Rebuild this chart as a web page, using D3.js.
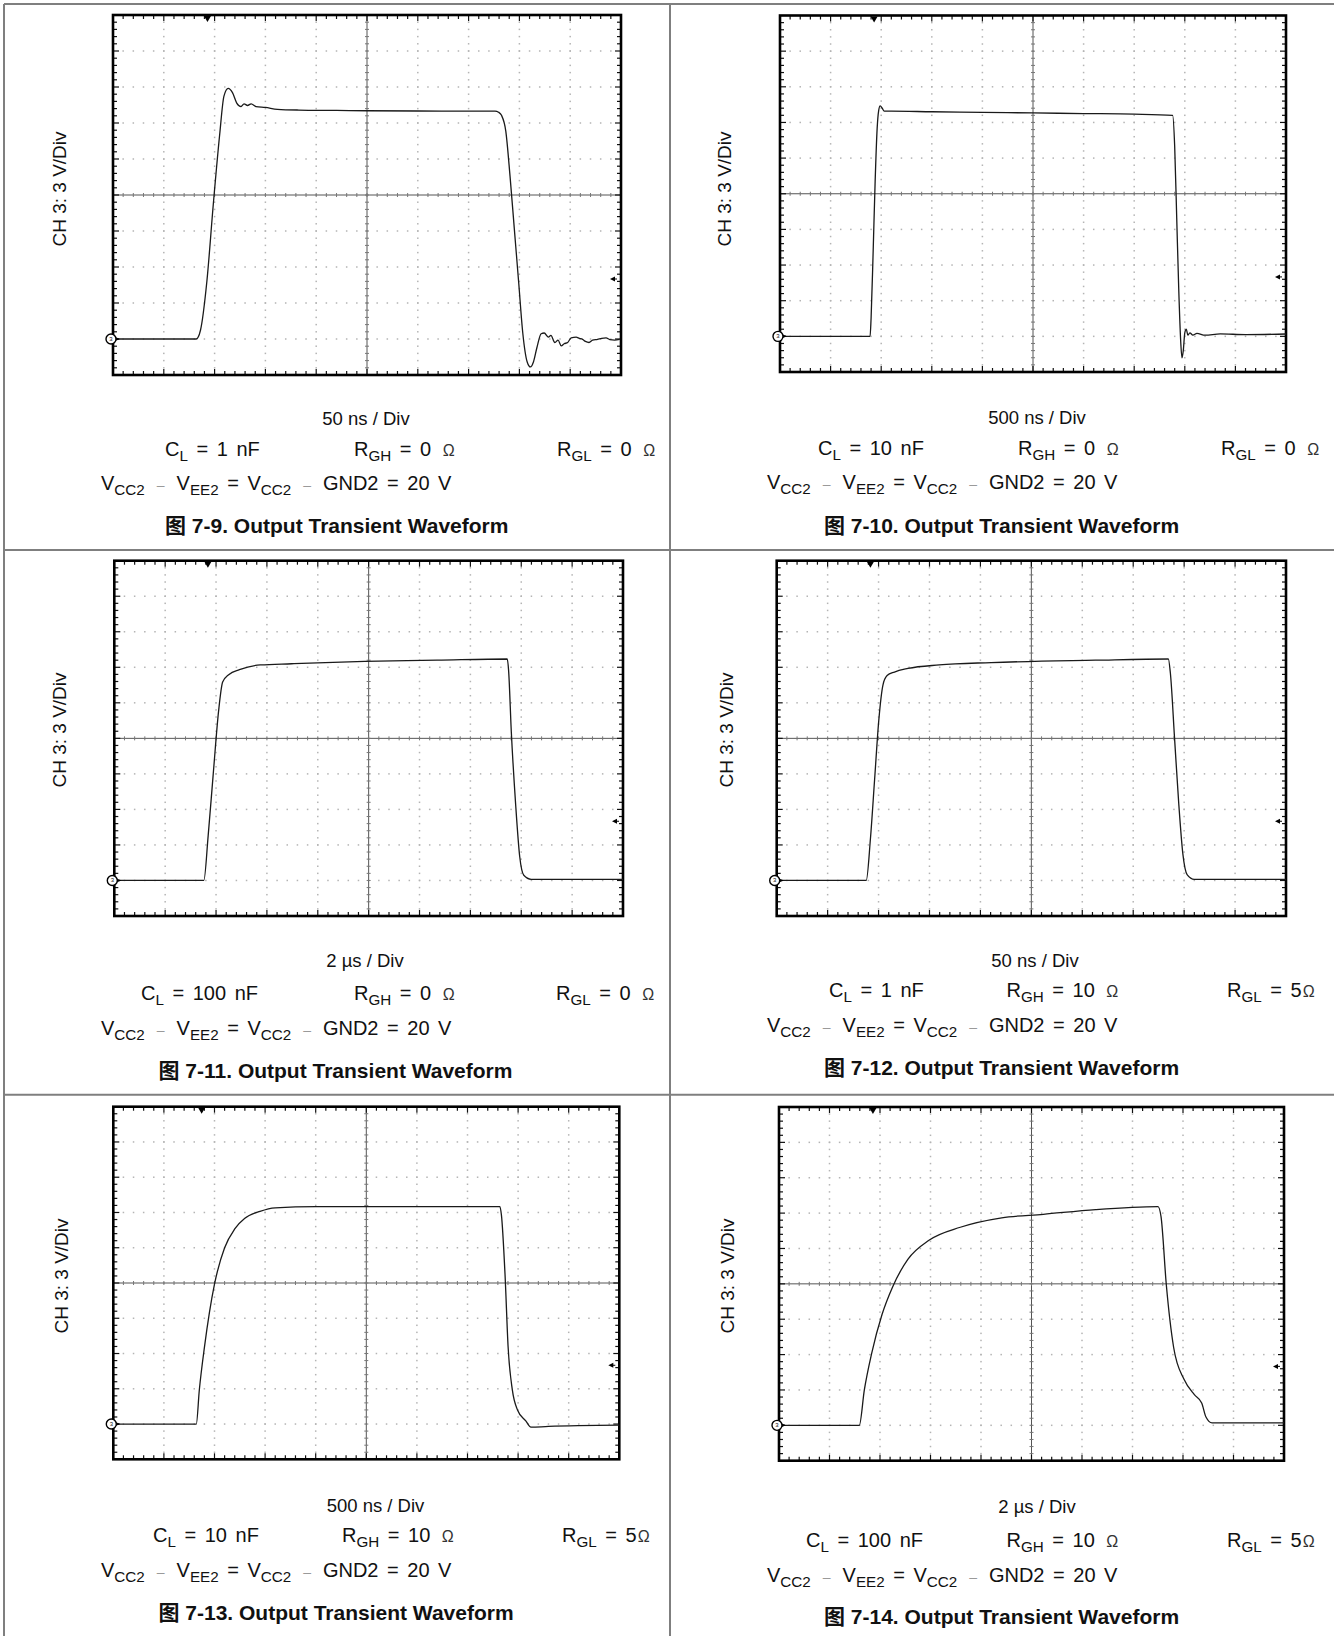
<!DOCTYPE html>
<html><head><meta charset="utf-8">
<script src="https://cdn.jsdelivr.net/npm/d3@7"></script>
<style>
body{margin:0;background:#fff;}
svg{display:block;}
text{font-family:"Liberation Sans",Arial,sans-serif;fill:#111;}
</style></head><body>
<svg id="c" width="1334" height="1636"></svg>
<script>
// ---------- chart data ----------
const figureIds   = ["7-9", "7-10", "7-11", "7-12", "7-13", "7-14"];
const timeBase    = ["50 ns / Div", "500 ns / Div", "2 \u00b5s / Div", "50 ns / Div", "500 ns / Div", "2 \u00b5s / Div"];
const timePerDiv  = [50, 500, 2, 50, 500, 2];          // ns, ns, µs, ns, ns, µs
const loadCap     = ["1 nF", "10 nF", "100 nF", "1 nF", "10 nF", "100 nF"];
const rGateHigh   = ["0", "0", "0", "10", "10", "10"];
const rGateLow    = ["0", "0", "0", "5", "5", "5"];
const yLabel      = "CH 3: 3 V/Div";
const voltsPerDiv = 3;
const triggerLevel = 5;                                  // V (right-edge arrow)
const triggerTime  = [93, 930, 3.68, 92, 873, 3.72];     // top marker

// waveforms: time (panel units) / volts
const w79T  = [0,40,81.9,86.1,92.4,98.7,105,109.2,113.4,117.6,121.8,126,129,132.4,136,140.8,150,161.8,182.8,220,250,300,350.8,376,379.5,382.4,386.6,390.8,395,399.2,403.4,407.6,410.9,413.9,417.2,421.4,424.4,428.6,431,434.9,438,441.2,444,447.5,451,455.9,459,462.2,465,468.5,472,476.9,481,485.3,489,493.7,498.7];
const w79V  = [0,0,0,0.73,4.81,11.21,17.04,20.24,20.88,20.53,19.66,19.37,19.6,19.46,19.6,19.37,19.3,19.14,19.08,19.05,19.02,19.0,18.99,18.99,18.9,18.64,17.33,13.55,9.18,4.81,0.44,-1.89,-2.33,-1.89,-0.73,0.44,0.5,0.15,0.3,-0.29,-0.1,-0.58,-0.4,-0.29,0.1,0.15,0.05,-0.03,-0.2,-0.29,-0.1,-0.03,0.05,0.09,-0.05,-0.09,-0.03];
const w710T = [0,500,890,900,920,940,960,975,990,1010,1030,1100,1500,2000,2500,3000,3500,3880,3900,3920,3940,3960,3972,3985,4000,4015,4030,4050,4080,4120,4200,4350,4600,5000];
const w710V = [0,0,0,1.5,7,13,17.5,19.0,19.4,19.2,18.95,18.95,18.9,18.85,18.8,18.75,18.7,18.6,16,10,4,-0.5,-1.8,-1.2,0.3,0.6,0.1,0.3,0.1,0.25,0.1,0.2,0.15,0.2];
const w711T = [0,3.52,3.69,3.89,4.1,4.26,4.51,4.92,5.74,6.97,9.84,12.7,15.45,15.5,15.61,15.78,15.94,16.1,16.39,20];
const w711V = [0,0,3.77,9.0,14.3,16.75,17.4,17.8,18.2,18.3,18.5,18.6,18.7,17.8,12.5,6.4,2.0,0.44,0.1,0.1];
const w712T = [0,87.9,92,96.1,100.2,104.3,108.4,115.6,128.8,159.5,210.6,312.9,384.5,386.5,390.6,394.7,398.8,402.9,410,500];
const w712V = [0,0,3.5,8.5,13.5,16.5,17.3,17.6,17.9,18.2,18.4,18.6,18.7,17.5,12,6.5,2.2,0.5,0.1,0.1];
const w713T = [0,820,850,900,950,1000,1100,1200,1300,1450,1600,2000,2500,3000,3500,3820,3835,3871,3901,3943,3994,4076,4127,4300,5000];
const w713V = [0,0,2.9,6.5,9.5,11.9,15.0,16.6,17.5,18.1,18.4,18.5,18.5,18.5,18.5,18.5,17.8,12.7,6.6,2.9,1.2,0.27,-0.27,-0.2,-0.1];
const w714T = [0,3.18,3.38,3.67,4.08,4.49,5.11,5.94,7.18,8.82,10.47,12.54,15.01,15.13,15.34,15.63,16.04,16.45,16.74,16.91,17.15,20];
const w714V = [0,0,3.0,6.1,9.4,11.7,14.1,15.7,16.8,17.6,17.9,18.3,18.55,17.7,11.9,6.6,3.9,2.6,1.9,0.7,0.2,0.2];
const waveT = [w79T, w710T, w711T, w712T, w713T, w714T];
const waveV = [w79V, w710V, w711V, w712V, w713V, w714V];

// ---------- layout (pixels) ----------
const layout = [
 {x0:113,   y0:15,    x1:621,  y1:375,    yl:[66,189],   xl:[366,425],    cl:[165,456],  rgh:[354,456],  rgl:[557,456],  vcc:[101,490],  ti:[165,533]},
 {x0:780,   y0:15.5,  x1:1286, y1:372,    yl:[731,189],  xl:[1037,424],   cl:[818,455],  rgh:[1018,455], rgl:[1221,455], vcc:[767,489],  ti:[824,533]},
 {x0:114.3, y0:560.7, x1:623,  y1:916,    yl:[66,730],   xl:[365,967],    cl:[141,1000], rgh:[354,1000], rgl:[556,1000], vcc:[101,1035], ti:[158.5,1078]},
 {x0:776.7, y0:560.7, x1:1286, y1:916,    yl:[733,730],  xl:[1035,967],   cl:[829,997],  rgh:[1006.5,997],rgl:[1227,997], vcc:[767,1032], ti:[824,1075]},
 {x0:113.3, y0:1106.7,x1:619.3,y1:1459.3, yl:[68,1276],  xl:[375.5,1512], cl:[153,1542], rgh:[342,1542], rgl:[562,1542], vcc:[101,1577], ti:[158.5,1620]},
 {x0:779,   y0:1107,  x1:1284, y1:1460.7, yl:[734,1276], xl:[1037,1513],  cl:[806,1547], rgh:[1006.5,1547],rgl:[1227,1547],vcc:[767,1582], ti:[824,1624]}
];

const svg = d3.select("#c");

// page table lines
const lineCol = "#7f7f7f";
svg.append("line").attr("x1",4).attr("x2",1334).attr("y1",4).attr("y2",4).attr("stroke",lineCol).attr("stroke-width",2);
svg.append("line").attr("x1",4).attr("x2",4).attr("y1",4).attr("y2",1636).attr("stroke",lineCol).attr("stroke-width",2);
svg.append("line").attr("x1",670).attr("x2",670).attr("y1",4).attr("y2",1636).attr("stroke",lineCol).attr("stroke-width",2);
[550, 1094.7].forEach(yy => svg.append("line").attr("x1",4).attr("x2",1334).attr("y1",yy).attr("y2",yy).attr("stroke",lineCol).attr("stroke-width",2));

function rich(g, x, y, parts, size, extra) {
  const t = g.append("text").attr("x", x).attr("y", y).attr("font-size", size).attr("xml:space","preserve");
  if (extra) extra(t);
  let shift = 0;
  parts.forEach(p => {
    const ts = t.append("tspan").text(p.t);
    let target = p.sub ? 5 : 0;
    let dy = target - shift;
    if (dy) ts.attr("dy", dy);
    shift = target;
    if (p.dx) ts.attr("dx", p.dx);
    if (p.sub) ts.attr("font-size", size * 0.76);
    if (p.om) ts.attr("font-size", size * 0.8).attr("fill", "#333");
    if (p.dash) ts.attr("font-size", size * 0.7).attr("fill", "#9a9a9a");
  });
  return t;
}

function drawPanel(i) {
  const L = layout[i];
  const tpd = timePerDiv[i];
  const x = d3.scaleLinear().domain([0, 10 * tpd]).range([L.x0, L.x1]);
  const y = d3.scaleLinear().domain([-voltsPerDiv, 9 * voltsPerDiv]).range([L.y1, L.y0]);
  const g = svg.append("g");

  const xDiv = d3.range(0, 11).map(k => k * tpd);
  const yDiv = d3.range(-1, 10).map(k => k * voltsPerDiv);
  const xSub = d3.range(0, 51).map(k => k * tpd / 5);
  const ySub = d3.range(-5, 46).map(k => k * voltsPerDiv / 5);

  // dotted graticule
  const dots = [];
  xDiv.slice(1, 10).forEach((xv, k) => { if (k + 1 === 5) return; ySub.slice(1, -1).forEach(yv => dots.push([x(xv), y(yv)])); });
  yDiv.slice(1, 10).forEach((yv, k) => { if (k + 1 === 5) return; xSub.slice(1, -1).forEach(xv => dots.push([x(xv), y(yv)])); });
  g.append("g").selectAll("rect").data(dots).join("rect")
    .attr("x", d => d[0] - 0.75).attr("y", d => d[1] - 0.75)
    .attr("width", 1.5).attr("height", 1.5).attr("fill", "#b4b4b4");

  // center cross
  const xc = x(5 * tpd), yc = y(4 * voltsPerDiv);
  g.append("line").attr("x1", L.x0).attr("x2", L.x1).attr("y1", yc).attr("y2", yc).attr("stroke", "#555").attr("stroke-width", 1);
  g.append("line").attr("x1", xc).attr("x2", xc).attr("y1", L.y0).attr("y2", L.y1).attr("stroke", "#555").attr("stroke-width", 1);
  const cx = g.append("g").attr("stroke", "#777").attr("stroke-width", 1);
  xSub.slice(1, -1).forEach(xv => cx.append("line").attr("x1", x(xv)).attr("x2", x(xv)).attr("y1", yc - 2).attr("y2", yc + 2));
  ySub.slice(1, -1).forEach(yv => cx.append("line").attr("x1", xc - 2).attr("x2", xc + 2).attr("y1", y(yv)).attr("y2", y(yv)));

  // border ticks
  const bt = g.append("g").attr("stroke", "#111").attr("stroke-width", 1.2);
  xSub.slice(1, -1).forEach((xv, k) => {
    const len = (k + 1) % 5 === 0 ? 6 : 4;
    bt.append("line").attr("x1", x(xv)).attr("x2", x(xv)).attr("y1", L.y0).attr("y2", L.y0 + len);
    bt.append("line").attr("x1", x(xv)).attr("x2", x(xv)).attr("y1", L.y1).attr("y2", L.y1 - len);
  });
  ySub.slice(1, -1).forEach((yv, k) => {
    const len = (k + 1) % 5 === 0 ? 6 : 4;
    bt.append("line").attr("x1", L.x0).attr("x2", L.x0 + len).attr("y1", y(yv)).attr("y2", y(yv));
    bt.append("line").attr("x1", L.x1).attr("x2", L.x1 - len).attr("y1", y(yv)).attr("y2", y(yv));
  });

  // frame
  g.append("rect").attr("x", L.x0).attr("y", L.y0).attr("width", L.x1 - L.x0).attr("height", L.y1 - L.y0)
    .attr("fill", "none").attr("stroke", "#000").attr("stroke-width", 2.6);

  // trace
  const pts = waveT[i].map((t, k) => [t, waveV[i][k]]);
  g.append("path").datum(pts)
    .attr("d", d3.line().x(d => x(d[0])).y(d => y(d[1])).curve(d3.curveMonotoneX))
    .attr("fill", "none").attr("stroke", "#1a1a1a").attr("stroke-width", 1.3).attr("stroke-linejoin", "round");

  // trigger position marker (top)
  const tx = x(triggerTime[i]);
  g.append("path").attr("d", `M${tx - 3.5},${L.y0 + 1}L${tx + 3.5},${L.y0 + 1}L${tx},${L.y0 + 7}Z`).attr("fill", "#000");
  // trigger level arrow (right)
  const ty = y(triggerLevel);
  g.append("path").attr("d", `M${L.x1 - 11},${ty}L${L.x1 - 6},${ty - 2.5}L${L.x1 - 6},${ty + 2.5}Z`).attr("fill", "#000");
  g.append("line").attr("x1", L.x1 - 7).attr("x2", L.x1 - 4).attr("y1", ty).attr("y2", ty).attr("stroke", "#000").attr("stroke-width", 1);
  // ground reference marker (left)
  const gy = y(0);
  g.append("path").attr("d", `M${L.x0 + 7},${gy}L${L.x0 + 1},${gy - 2.5}L${L.x0 + 1},${gy + 2.5}Z`).attr("fill", "#000");
  g.append("circle").attr("cx", L.x0 - 2).attr("cy", gy).attr("r", 5).attr("fill", "#fff").attr("stroke", "#000").attr("stroke-width", 1.4);
  g.append("text").attr("x", L.x0 - 2).attr("y", gy + 2).attr("text-anchor", "middle").attr("font-size", 6).text("3");

  // labels
  g.append("text").attr("transform", `translate(${L.yl[0]},${L.yl[1]}) rotate(-90)`)
    .attr("text-anchor", "middle").attr("font-size", 19).text(yLabel);
  g.append("text").attr("x", L.xl[0]).attr("y", L.xl[1]).attr("text-anchor", "middle").attr("font-size", 18.5).text(timeBase[i]);

  const ws = t => t.attr("word-spacing", 3);
  rich(g, L.cl[0], L.cl[1], [{t: "C"}, {t: "L", sub: 1}, {t: " = " + loadCap[i]}], 20, ws);
  rich(g, L.rgh[0], L.rgh[1], [{t: "R"}, {t: "GH", sub: 1}, {t: " = " + rGateHigh[i] + " "}, {t: "\u03a9", om: 1, dx: 3}], 20, ws);
  rich(g, L.rgl[0], L.rgl[1], [{t: "R"}, {t: "GL", sub: 1}, {t: " = " + rGateLow[i] + (i < 3 ? " " : "")}, {t: "\u03a9", om: 1, dx: i < 3 ? 3 : 1}], 20, ws);
  rich(g, L.vcc[0], L.vcc[1], [
    {t: "V"}, {t: "CC2", sub: 1}, {t: "\u2013", dash: 1, dx: 12},
    {t: "V", dx: 12}, {t: "EE2", sub: 1}, {t: " = V"}, {t: "CC2", sub: 1},
    {t: "\u2013", dash: 1, dx: 12}, {t: "GND2 = 20 V", dx: 12}], 20, ws);

  const tt = g.append("text").attr("x", L.ti[0]).attr("y", L.ti[1]).attr("font-size", 21).attr("font-weight", "bold");
  tt.append("tspan").attr("font-family", "'Noto Sans CJK SC',sans-serif").text("\u56fe");
  tt.append("tspan").text(" " + figureIds[i] + ". Output Transient Waveform");
}

d3.range(6).forEach(drawPanel);
</script>
</body></html>
